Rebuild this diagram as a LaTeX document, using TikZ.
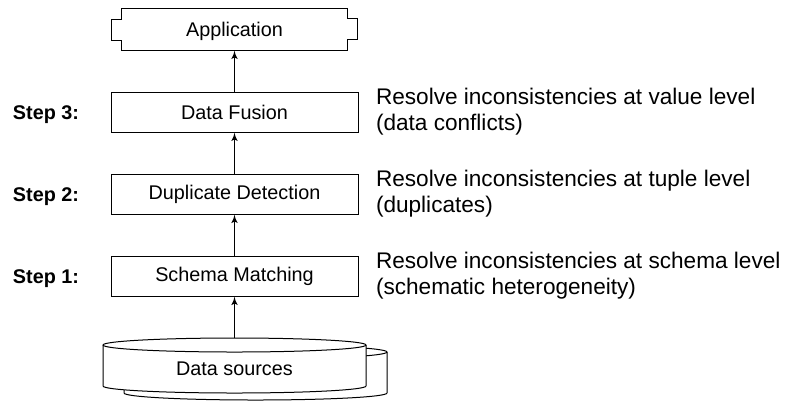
\documentclass[tikz,border=0pt]{standalone}
\usepackage{fontspec}
\setmainfont{Liberation Sans}
\usetikzlibrary{positioning, arrows}

\tikzset{
  stepbox/.style={draw,minimum width=123.5pt,minimum height=20pt,inner sep=0pt,font=\fontsize{9.9}{12}\selectfont},
  steplabel/.style={inner sep=0pt,yshift=-1.5pt,font=\bfseries\fontsize{9.9}{12}\selectfont},
  remark/.style={inner sep=0pt,align=left,font=\fontsize{11.3}{13}\selectfont}
}

\begin{document}
\begin{tikzpicture}[x=0.5pt,y=-0.5pt,line width=0.5pt,>=latex',node distance=20.5pt]
\useasboundingbox (0,0) rectangle (788,404);
% the three steps
\node [stepbox] (schema) at (234.5,276) {Schema Matching};
\node [stepbox,above=of schema] (dup) {Duplicate Detection};
\node [stepbox,above=of dup] (fusion) {Data Fusion};
\node [minimum width=112.5pt,minimum height=20.5pt,inner sep=0pt,text depth=0pt,font=\fontsize{9.9}{12}\selectfont,above=of fusion] (app) {Application};
\draw (app.north west) -- (app.north east) -- ++(0,-5pt) -- ++(5pt,0) -- ++(0,-10.5pt) -- ++(-5pt,0)
  -- (app.south east) -- (app.south west) -- ++(0,5pt) -- ++(-5pt,0) -- ++(0,10.5pt) -- ++(5pt,0) -- cycle;
% step labels and remarks
\node [steplabel,left=15.5pt of schema] (step1) {Step 1:};
\node [steplabel,left=15.5pt of dup] (step2) {Step 2:};
\node [steplabel,left=15.5pt of fusion] (step3) {Step 3:};
\node [remark,right=8.5pt of schema] (rem1) {Resolve inconsistencies at schema level\\(schematic heterogeneity)};
\node [remark,right=8.5pt of dup] (rem2) {Resolve inconsistencies at tuple level\\(duplicates)};
\node [remark,right=8.5pt of fusion] (rem3) {Resolve inconsistencies at value level\\(data conflicts)};
% data sources
\draw [fill=white] (124,352) -- (124,393) arc (180:360:65.75pt and 3.5pt) -- (387,352);
\draw [fill=white] (255.5,352) ellipse (65.75pt and 3.5pt);
\draw [fill=white] (103,345) -- (103,386) arc (180:360:65.75pt and 3.5pt) -- (366,345);
\draw [fill=white] (234.5,345) ellipse (65.75pt and 3.5pt);
\node [minimum width=131.5pt,minimum height=31pt,inner sep=0pt,font=\fontsize{9.9}{12}\selectfont] (src) at (234.5,369) {Data sources};
% arrows
\draw [->] (src) -- (schema);
\draw [->] (schema) -- (dup);
\draw [->] (dup) -- (fusion);
\draw [->] (fusion) -- (app);
\end{tikzpicture}
\end{document}
